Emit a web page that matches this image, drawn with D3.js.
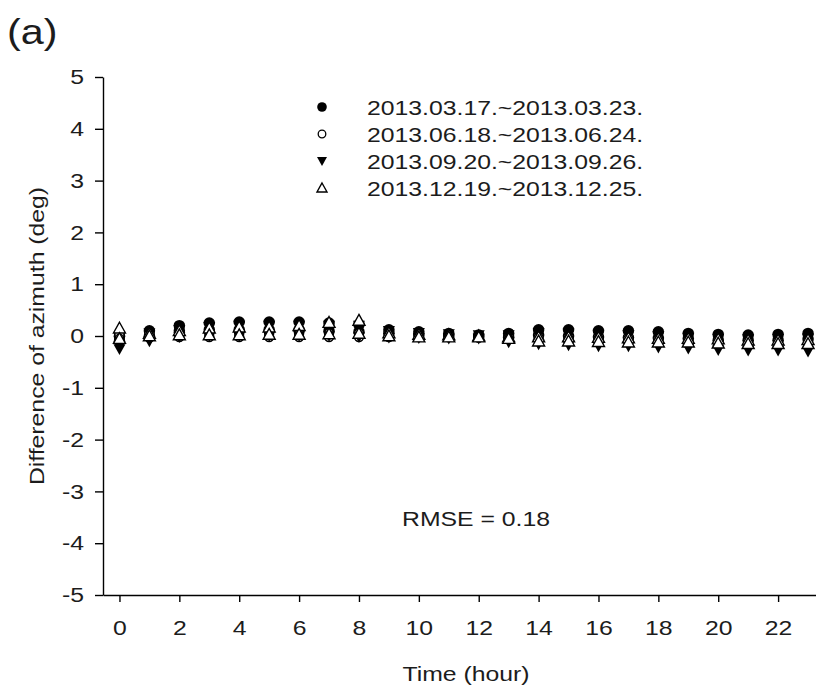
<!DOCTYPE html>
<html>
<head>
<meta charset="utf-8">
<script src="https://cdn.jsdelivr.net/npm/d3@7"></script>
<style>
  body { margin: 0; background: #fff; }
  svg { display: block; }
  text { font-family: "Liberation Sans", Arial, sans-serif; fill: #1c1c1c; }
</style>
</head>
<body>
<svg id="chart" width="816" height="688"></svg>
<script>
// Hour of day (x categories) and axis ticks
const hours  = [0, 1, 2, 3, 4, 5, 6, 7, 8, 9, 10, 11, 12, 13, 14, 15, 16, 17, 18, 19, 20, 21, 22, 23];
const xTicks = [0, 2, 4, 6, 8, 10, 12, 14, 16, 18, 20, 22];
const yTicks = [-5, -4, -3, -2, -1, 0, 1, 2, 3, 4, 5];

const seriesLabels = [
  "2013.03.17.~2013.03.23.",
  "2013.06.18.~2013.06.24.",
  "2013.09.20.~2013.09.26.",
  "2013.12.19.~2013.12.25."
];

// Azimuth difference (deg): upper and lower daily values of each week, per hour
const marHigh = [0.00, 0.10, 0.20, 0.25, 0.27, 0.27, 0.27, 0.25, 0.22, 0.12, 0.08, 0.05, 0.02, 0.05, 0.12, 0.12, 0.10, 0.10, 0.08, 0.05, 0.03, 0.02, 0.03, 0.05];
const marLow  = [-0.10, 0.00, 0.10, 0.12, 0.12, 0.12, 0.12, 0.10, 0.08, 0.05, 0.02, 0.00, -0.02, -0.02, 0.02, 0.00, -0.02, -0.03, -0.04, -0.05, -0.08, -0.08, -0.08, -0.06];

const junHigh = [0.05, 0.05, 0.05, 0.05, 0.05, 0.05, 0.05, 0.05, 0.05, 0.03, 0.02, 0.02, 0.00, -0.02, -0.03, -0.05, -0.05, -0.05, -0.06, -0.07, -0.08, -0.10, -0.10, -0.10];
const junLow  = [-0.05, -0.03, -0.02, -0.02, -0.02, -0.02, -0.02, -0.02, -0.02, -0.02, -0.02, -0.02, -0.03, -0.06, -0.08, -0.10, -0.10, -0.12, -0.12, -0.14, -0.15, -0.16, -0.16, -0.17];

const sepHigh = [-0.10, 0.05, 0.12, 0.18, 0.20, 0.20, 0.20, 0.20, 0.20, 0.10, 0.06, 0.04, 0.02, 0.02, 0.06, 0.05, 0.03, 0.02, 0.00, -0.03, -0.05, -0.06, -0.05, -0.05];
const sepLow  = [-0.25, -0.10, -0.02, 0.00, 0.00, 0.00, 0.00, 0.00, -0.02, -0.03, -0.04, -0.05, -0.05, -0.12, -0.16, -0.18, -0.20, -0.20, -0.22, -0.24, -0.27, -0.28, -0.28, -0.30];

const decHigh = [0.15, 0.05, 0.10, 0.15, 0.17, 0.17, 0.20, 0.26, 0.30, 0.06, 0.03, 0.02, 0.00, -0.02, -0.02, -0.02, -0.03, -0.04, -0.05, -0.05, -0.06, -0.08, -0.08, -0.07];
const decLow  = [-0.05, 0.00, 0.02, 0.02, 0.02, 0.03, 0.03, 0.04, 0.05, 0.00, -0.02, -0.02, -0.02, -0.05, -0.10, -0.10, -0.11, -0.12, -0.12, -0.12, -0.14, -0.15, -0.15, -0.15];

const rmseText = "RMSE = 0.18";

// ---- layout ----
const SX = 1.18;          // horizontal text widening
const FONT = 21;
const svg = d3.select("#chart");

const x = d3.scaleLinear().domain([-0.55, 23.7]).range([103, 829]);
const y = d3.scaleLinear().domain([-5, 5]).range([595, 77]);

function label(parent, px, py, str, size, anchor, extra) {
  return parent.append("text")
    .attr("transform", `translate(${px},${py}) ${extra || ""} scale(${SX},1)`)
    .attr("text-anchor", anchor)
    .style("font-size", size + "px")
    .text(str);
}

// marker shapes (k scales the shape)
function markerSet(k) {
  return [
    { path: d3.symbol(d3.symbolCircle, Math.PI * Math.pow(4.8 * k, 2))(), fill: "#000", stroke: "none", sw: 0 },
    { path: d3.symbol(d3.symbolCircle, Math.PI * Math.pow(3.8 * k, 2))(), fill: "#fff", stroke: "#000", sw: 1.3 },
    { path: `M${-5 * k},${-4 * k}L${5 * k},${-4 * k}L0,${5 * k}Z`, fill: "#000", stroke: "none", sw: 0 },
    { path: `M0,${-5 * k}L${5 * k},${4 * k}L${-5 * k},${4 * k}Z`, fill: "#fff", stroke: "#000", sw: 1.4 }
  ];
}
const plotMarkers = markerSet(1.2);
const legendMarkers = markerSet(1.0);

const series = [
  [marHigh, marLow],
  [junHigh, junLow],
  [sepHigh, sepLow],
  [decHigh, decLow]
];

// ---- data points ----
const plot = svg.append("g");
series.forEach((arrs, si) => {
  const m = plotMarkers[si];
  arrs.forEach(vals => {
    plot.append("g").selectAll("path")
      .data(hours.map((h, i) => ({ h, v: vals[i] })))
      .join("path")
      .attr("transform", d => `translate(${x(d.h)},${y(d.v)})`)
      .attr("d", m.path)
      .attr("fill", m.fill)
      .attr("stroke", m.stroke)
      .attr("stroke-width", m.sw);
  });
});

// ---- axes ----
const fmt = d => String(d);   // plain hyphen for negatives

const xAxis = svg.append("g")
  .attr("transform", `translate(0,${y(-5)})`)
  .call(d3.axisBottom(x).tickValues(xTicks).tickFormat(fmt).tickSize(7).tickPadding(18).tickSizeOuter(0));
xAxis.selectAll("text")
  .attr("transform", `scale(${SX},1)`)
  .style("font-size", FONT + "px");

const yAxis = svg.append("g")
  .attr("transform", `translate(${x(-0.55)},0)`)
  .call(d3.axisLeft(y).tickValues(yTicks).tickFormat(fmt).tickSize(8).tickSizeOuter(0));
yAxis.selectAll("text")
  .attr("x", -19 / SX)
  .attr("transform", `scale(${SX},1)`)
  .style("font-size", FONT + "px");

svg.selectAll(".domain, .tick line")
  .attr("stroke", "#000")
  .attr("stroke-width", 1.4);
svg.selectAll(".tick text").attr("fill", "#1c1c1c");
xAxis.attr("font-family", null).attr("font-size", null);
yAxis.attr("font-family", null).attr("font-size", null);

// ---- titles ----
label(svg, (x.range()[0] + x.range()[1]) / 2, 681, "Time (hour)", FONT, "middle");
label(svg, 44, (y(-5) + y(5)) / 2, "Difference of azimuth (deg)", FONT, "middle", "rotate(-90)");
label(svg, 7, 44, "(a)", 35, "start");

// ---- legend ----
const legend = svg.append("g");
const rowY = [107, 134, 161, 188];
seriesLabels.forEach((s, i) => {
  const m = legendMarkers[i];
  legend.append("path")
    .attr("transform", `translate(322,${rowY[i]})`)
    .attr("d", m.path)
    .attr("fill", m.fill)
    .attr("stroke", m.stroke)
    .attr("stroke-width", m.sw);
  label(legend, 367, rowY[i] + 7.5, s, FONT, "start");
});

// ---- statistic ----
label(svg, 402, 526, rmseText, FONT, "start");
</script>
</body>
</html>
